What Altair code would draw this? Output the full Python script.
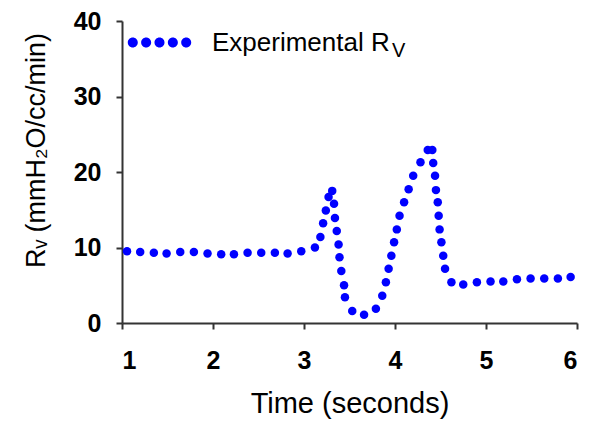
import altair as alt
import pandas as pd

# Time (s) and resistance values
time_s = [1.055, 1.20, 1.35, 1.49, 1.64, 1.79, 1.94, 2.09, 2.23, 2.38, 2.53, 2.68, 2.82, 2.97,
          3.12, 3.18, 3.21, 3.24, 3.27, 3.31, 3.33, 3.34, 3.36, 3.38, 3.39, 3.41, 3.44, 3.45,
          3.53, 3.66, 3.79, 3.86, 3.90, 3.93, 3.96, 3.99, 4.02, 4.05, 4.10, 4.15, 4.20, 4.28,
          4.36, 4.41, 4.42, 4.44, 4.45, 4.47, 4.48, 4.49, 4.51, 4.53, 4.55, 4.62, 4.75, 4.90,
          5.05, 5.19, 5.34, 5.49, 5.64, 5.79, 5.93]
rv = [9.5, 9.4, 9.3, 9.2, 9.4, 9.4, 9.2, 9.1, 9.1, 9.3, 9.3, 9.3, 9.2, 9.5,
      10.0, 11.4, 13.2, 14.9, 16.7, 17.5, 15.8, 13.9, 12.2, 10.4, 8.7, 6.9, 5.0, 3.4,
      1.6, 1.1, 1.9, 3.6, 5.4, 7.2, 8.9, 10.7, 12.4, 14.2, 16.0, 17.7, 19.5, 21.3,
      22.9, 22.9, 21.2, 19.5, 17.6, 16.0, 14.2, 12.4, 10.7, 8.9, 7.2, 5.4, 5.1, 5.4,
      5.5, 5.5, 5.8, 5.9, 5.9, 5.9, 6.1]
series_name = "Experimental R"
x_ticks = [1, 2, 3, 4, 5, 6]
y_ticks = [0, 10, 20, 30, 40]

df = pd.DataFrame({"t": time_s, "rv": rv, "series": [series_name] * len(time_s)})

# five-dot legend symbol (unit box -1..1)
r = 0.159
centers = [-0.848, -0.424, 0.0, 0.424, 0.848]
sym = "".join(
    f"M{c - r:.3f},0A{r},{r} 0 1,0 {c + r:.3f},0A{r},{r} 0 1,0 {c - r:.3f},0Z" for c in centers
)

FONT = "Liberation Sans"

points = alt.Chart(df).mark_point(filled=True, size=72, opacity=1).encode(
    x=alt.X("t:Q", scale=alt.Scale(domain=[1, 6], nice=False, zero=False),
            axis=alt.Axis(values=x_ticks, title="Time (seconds)", format="d",
                          titleY=80, titleBaseline="middle", labelPadding=19)),
    y=alt.Y("rv:Q", scale=alt.Scale(domain=[0, 40], nice=False),
            axis=alt.Axis(values=y_ticks, title="Rᵥ (mmH₂O/cc/min)", format="d",
                          titleAngle=270, titleX=-78, titleY=129, titleAlign="center",
                          titleBaseline="alphabetic", labelPadding=15)),
    color=alt.Color("series:N", scale=alt.Scale(range=["#0000FF"]),
                    legend=alt.Legend(title=None, orient="none", legendX=6, legendY=-10,
                                      padding=0, symbolType=sym, symbolSize=3969,
                                      symbolFillColor="#0000FF", symbolStrokeWidth=0,
                                      labelFont=FONT, labelFontSize=26, labelOffset=21,
                                      labelColor="black", labelLimit=400)),
)

sub_v = alt.Chart(pd.DataFrame({"s": ["V"]})).mark_text(
    font=FONT, fontSize=20, align="left", baseline="alphabetic", color="black"
).encode(text="s:N", x=alt.value(270), y=alt.value(36))

chart = alt.layer(points, sub_v).properties(
    width=455, height=302,
    autosize=alt.AutoSizeParams(type="none"),
    padding={"left": 114, "top": 13, "right": 13, "bottom": 97},
).configure_view(stroke=None).configure_axis(
    grid=False, domainColor="#333333", domainWidth=2, tickColor="#333333", tickWidth=2,
    tickSize=6, labelFont=FONT, labelFontWeight="bold", labelFontSize=25, labelColor="black",
    titleFont=FONT, titleFontWeight="normal", titleFontSize=29, titleColor="black",
).configure_axisY(titleFontSize=27)

chart.save("out.html", embed_options={"renderer": "svg", "actions": False})
